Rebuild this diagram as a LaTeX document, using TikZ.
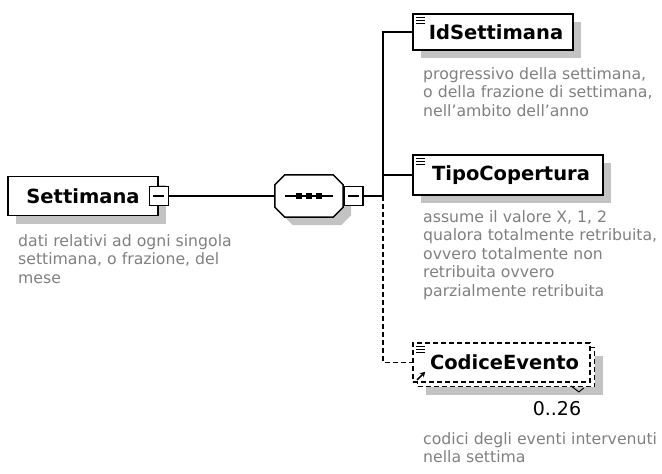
\documentclass[tikz,border=0pt]{standalone}
\usepackage{fontspec}
\setmainfont{DejaVu Sans}
\usetikzlibrary{positioning,shadows,arrows.meta}
\definecolor{descgray}{RGB}{128,128,128}
\definecolor{shadowgray}{RGB}{195,195,195}
\begin{document}
\begin{tikzpicture}[x=1pt, y=-1pt,
	boxshadow/.style = {general shadow={fill=shadowgray, shadow xshift=8pt, shadow yshift=-8pt}},
	elem/.style = {draw, line width=1.8pt, fill=white, inner sep=0pt, font=\bfseries\fontsize{19.5}{22}\selectfont},
	leaf/.style = {elem, path picture={\foreach \k in {3.5,6.5,9.5} \draw[solid, line width=1pt] ([shift={(3,\k)}]path picture bounding box.north west) -- +(9,0);}},
	minusbox/.style = {draw, line width=1.5pt, fill=white, minimum size=19pt, inner sep=0pt, path picture={\draw[line width=1.2pt] ([shift={(4,0)}]path picture bounding box.west) -- ([shift={(-4,0)}]path picture bounding box.east);}},
	link/.style = {line width=1.5pt},
	optlink/.style = {link, dash pattern=on 5pt off 3pt},
	descr/.style = {anchor=north west, align=left, inner sep=0pt, text=descgray, font=\fontsize{15.7}{18.5}\selectfont}]
	\useasboundingbox (0,0) rectangle (662,474);

	\node[elem, boxshadow, minimum width=150pt, minimum height=39pt] (settimana) at (83,196) {Settimana\hspace{12pt}};
	\node[minusbox] (settimana-m) at (settimana.east) {};
	\node[descr] (settimana-d) at (18,234) {dati relativi ad ogni singola\\settimana, o frazione, del\\mese};

	\node[minimum width=68pt, minimum height=42pt, inner sep=0pt] (seq) at (309,196) {};
	\draw[line width=1.5pt, fill=white, boxshadow] ([shift={(10,0)}]seq.north west) -- ([shift={(-10,0)}]seq.north east) -- ([shift={(0,10)}]seq.north east) -- ([shift={(0,-10)}]seq.south east) -- ([shift={(-10,0)}]seq.south east) -- ([shift={(10,0)}]seq.south west) -- ([shift={(0,-10)}]seq.south west) -- ([shift={(0,10)}]seq.north west) -- cycle;
	\draw[line width=1.5pt] ([shift={(10,0)}]seq.west) -- ([shift={(-10,0)}]seq.east);
	\foreach \dx in {-10,0,10}
		\fill ([shift={(\dx-3,-3)}]seq.center) rectangle +(6,6);
	\node[minusbox, anchor=west] (seq-m) at (seq.east) {};
	\coordinate (bus) at (383,196);

	\node[leaf, boxshadow, minimum width=160pt, minimum height=36pt] (idsett) at (493,32) {\hspace{6pt}IdSettimana};
	\node[descr] (idsett-d) at (423,67) {progressivo della settimana,\\o della frazione di settimana,\\nell'ambito dell'anno};

	\node[leaf, boxshadow, minimum width=190pt, minimum height=40pt] (tipo) at (508,175) {\hspace{6pt}TipoCopertura};
	\node[descr] (tipo-d) at (423,210) {assume il valore X, 1, 2\\qualora totalmente retribuita,\\ovvero totalmente non\\retribuita ovvero\\parzialmente retribuita};

	\node[elem, boxshadow, dash pattern=on 5pt off 3pt, minimum width=177pt, minimum height=39pt] (codice-b) at (506,367) {};
	\node[leaf, dash pattern=on 5pt off 3pt, minimum width=177pt, minimum height=39pt] (codice) at (501.5,362.5) {\hspace{6pt}CodiceEvento};
	\draw[-{Stealth[length=5pt,width=6pt]}, line width=1.6pt] ([shift={(5,-3)}]codice.south west) -- +(8,-8);
	\draw[line width=1pt] ([shift={(-20,3)}]codice.south east) -- ++(8,6) -- ++(5,-4);
	\node[font=\fontsize{19}{20}\selectfont] (codice-n) at (557,409) {0..26};
	\node[descr] (codice-d) at (423,432) {codici degli eventi intervenuti\\nella settima};

	\draw[link] (settimana-m) -- (seq.west);
	\draw[link] (seq-m) -- (bus);
	\draw[link] (bus) |- (idsett.west);
	\draw[link] (bus) |- (tipo.west);
	\draw[optlink] (bus) |- (codice.west);
\end{tikzpicture}
\end{document}
